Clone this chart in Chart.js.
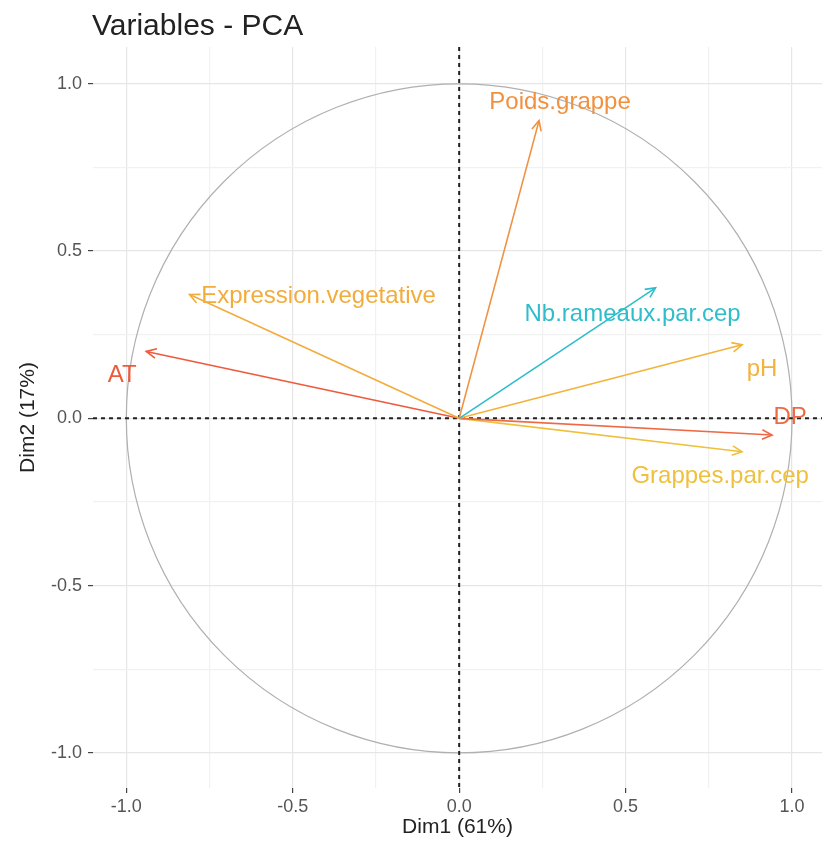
<!DOCTYPE html>
<html>
<head>
<meta charset="utf-8">
<script src="https://cdn.jsdelivr.net/npm/chart.js@4.4.1/dist/chart.umd.min.js"></script>
<style>
  html, body { margin: 0; padding: 0; background: #fff; }
  #wrap { width: 828px; height: 855px; position: relative; }
</style>
</head>
<body>
<div id="wrap"><canvas id="pcaChart"></canvas></div>
<script>
// variable coordinates on the first two dimensions
const variableNames = ["Poids.grappe", "Expression.vegetative", "AT", "Nb.rameaux.par.cep", "pH", "DP", "Grappes.par.cep"];
const dim1 = [0.24, -0.81, -0.94, 0.59, 0.85, 0.94, 0.85];
const dim2 = [0.89, 0.37, 0.20, 0.39, 0.22, -0.05, -0.10];
const gridValues = [-1, -0.75, -0.5, -0.25, 0, 0.25, 0.5, 0.75, 1];
const tickLabels = ["-1.0", "", "-0.5", "", "0.0", "", "0.5", "", "1.0"];

const arrowColors = ["#F0913F", "#F2AC3C", "#EE5A3C", "#2FBDCB", "#F2B33B", "#EE6A45", "#EFC03C"];
// label offsets in px from arrow tip (repelled labels)
const labelOffsets = [[21, -18], [129, 2], [-24, 24], [-23, 27], [20, 25], [18, -18], [-22, 25]];

const FONT = "'Liberation Sans', Arial, sans-serif";

const datasets = variableNames.map(function (name, i) {
  return {
    label: name,
    data: [{ x: 0, y: 0 }, { x: dim1[i], y: dim2[i] }],
    showLine: true,
    borderColor: arrowColors[i],
    borderWidth: 1.6,
    pointRadius: 0,
    fill: false,
  };
});

const isMajor = v => Math.abs(v * 2 - Math.round(v * 2)) < 1e-6;

const backdropPlugin = {
  id: "backdrop",
  beforeDatasetsDraw(chart) {
    const { ctx, chartArea: a, scales: { x, y } } = chart;
    const cx = x.getPixelForValue(0), cy = y.getPixelForValue(0);
    ctx.save();
    // correlation circle
    ctx.beginPath();
    ctx.ellipse(cx, cy, x.getPixelForValue(1) - cx, cy - y.getPixelForValue(1), 0, 0, Math.PI * 2);
    ctx.strokeStyle = "#b0b0b0";
    ctx.lineWidth = 1.2;
    ctx.stroke();
    // dashed zero lines
    ctx.setLineDash([4, 4]);
    ctx.strokeStyle = "#222";
    ctx.lineWidth = 2;
    ctx.beginPath();
    ctx.moveTo(a.left, cy); ctx.lineTo(a.right, cy);
    ctx.moveTo(cx, a.top); ctx.lineTo(cx, a.bottom);
    ctx.stroke();
    ctx.restore();
  }
};

const arrowPlugin = {
  id: "arrows",
  afterDatasetsDraw(chart) {
    const ctx = chart.ctx;
    ctx.save();
    chart.data.datasets.forEach(function (ds, i) {
      const pts = chart.getDatasetMeta(i).data;
      const p0 = pts[0], p1 = pts[1];
      const ang = Math.atan2(p1.y - p0.y, p1.x - p0.x);
      const len = 11, spread = Math.PI / 7;
      ctx.strokeStyle = ds.borderColor;
      ctx.lineWidth = 1.6;
      ctx.beginPath();
      ctx.moveTo(p1.x - len * Math.cos(ang - spread), p1.y - len * Math.sin(ang - spread));
      ctx.lineTo(p1.x, p1.y);
      ctx.lineTo(p1.x - len * Math.cos(ang + spread), p1.y - len * Math.sin(ang + spread));
      ctx.stroke();
      // label
      ctx.fillStyle = ds.borderColor;
      ctx.font = "24px " + FONT;
      ctx.textAlign = "center";
      ctx.textBaseline = "middle";
      ctx.fillText(ds.label, p1.x + labelOffsets[i][0], p1.y + labelOffsets[i][1]);
    });
    // title
    ctx.fillStyle = "#222";
    ctx.font = "30px " + FONT;
    ctx.textAlign = "left";
    ctx.textBaseline = "alphabetic";
    ctx.fillText("Variables - PCA", 92, 35);
    ctx.restore();
  }
};

function axisOptions(min, max, title, titlePad, tickPad) {
  return {
    type: "linear",
    min: min,
    max: max,
    afterBuildTicks: function (scale) {
      scale.ticks = gridValues.map(v => ({ value: v }));
    },
    ticks: {
      autoSkip: false,
      color: "#555",
      padding: tickPad,
      font: { family: FONT, size: 18 },
      callback: function (value) {
        const idx = gridValues.indexOf(value);
        return idx >= 0 ? tickLabels[idx] : "";
      },
    },
    grid: {
      color: ctx => isMajor(ctx.tick.value) ? "#e6e6e6" : "#f1f1f1",
      lineWidth: 1.2,
      tickLength: 5,
      tickColor: ctx => isMajor(ctx.tick.value) ? "#444" : "rgba(0,0,0,0)",
    },
    border: { display: false },
    title: {
      display: true,
      text: title,
      color: "#222",
      font: { family: FONT, size: 21 },
      padding: { top: titlePad, bottom: titlePad },
    },
  };
}

const xAxis = axisOptions(-1.1, 1.09, "Dim1 (61%)", 15, 3);
xAxis.afterFit = function (scale) { scale.height = 67; };
const yAxis = axisOptions(-1.105, 1.11, "Dim2 (17%)", 16, 6);
yAxis.afterFit = function (scale) { scale.width = 93; };

new Chart(document.getElementById("pcaChart"), {
  type: "scatter",
  data: { datasets: datasets },
  options: {
    responsive: true,
    maintainAspectRatio: false,
    animation: false,
    layout: { padding: { top: 47, right: 6, left: 0, bottom: 0 } },
    plugins: {
      legend: { display: false },
      tooltip: { enabled: false },
    },
    scales: { x: xAxis, y: yAxis },
  },
  plugins: [backdropPlugin, arrowPlugin],
});
</script>
</body>
</html>
